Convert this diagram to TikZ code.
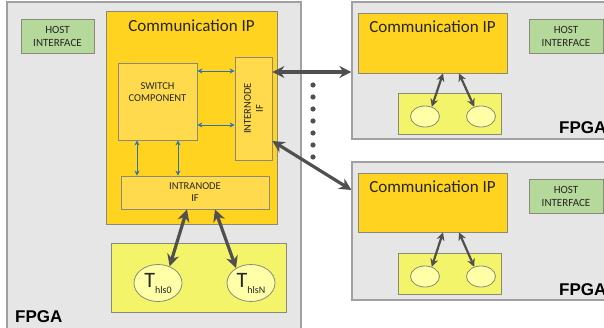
\documentclass[tikz,border=0pt]{standalone}
\usepackage{fontspec}
\setmainfont{Carlito}
\newfontfamily\boardfont{Liberation Sans}
\usepackage{tikz}
\usetikzlibrary{arrows.meta, positioning, calc, shapes.geometric}

\definecolor{boardgray}{HTML}{E6E6E6}
\definecolor{boardedge}{HTML}{A0A0A0}
\definecolor{edgegray}{HTML}{8A8A7A}
\definecolor{comyellow}{HTML}{FFD320}
\definecolor{blockyellow}{HTML}{FFDA4D}
\definecolor{taskyellow}{HTML}{F4F46B}
\definecolor{paleyellow}{HTML}{FFFFA8}
\definecolor{hostgreen}{HTML}{B5D89B}
\definecolor{linkblue}{HTML}{2A72B5}
\definecolor{busgray}{HTML}{505050}

% T with a small lowered index
\newcommand{\thls}[1]{{\fontsize{22}{22}\selectfont T}\raisebox{-6pt}{\fontsize{10}{10}\selectfont hls#1}}

\begin{document}
\begin{tikzpicture}[
    x=1pt, y=-1pt,
    every node/.style={font=\fontsize{11}{13}\selectfont, text=black!85, inner sep=0pt},
    board/.style={draw=boardedge, fill=boardgray, line width=1.2pt},
    comip/.style={draw=edgegray, fill=comyellow, line width=0.8pt},
    block/.style={draw=edgegray, fill=blockyellow, line width=0.8pt, align=center, font=\fontsize{10.5}{12}\selectfont},
    tasks/.style={draw=edgegray, fill=taskyellow, line width=0.8pt},
    task/.style={ellipse, draw=edgegray, fill=paleyellow, line width=0.8pt},
    host/.style={draw=edgegray, fill=hostgreen, line width=0.8pt, align=center},
    iptitle/.style={font=\fontsize{17}{17}\selectfont, anchor=base},
    fpga/.style={font=\boardfont\bfseries\fontsize{17}{17}\selectfont, text=black, anchor=base west},
    link/.style={{Stealth[length=5pt, width=5pt]}-{Stealth[length=5pt, width=5pt]}, line width=0.8pt, linkblue},
    bus/.style={{Stealth[length=12pt, width=12pt]}-{Stealth[length=12pt, width=12pt]}, line width=3.2pt, busgray},
    taskbus/.style={{Stealth[length=8pt, width=8pt]}-{Stealth[length=8pt, width=8pt]}, line width=2.2pt, busgray}
]

\clip (0,0) rectangle (604,328);

% === LEFT BOARD ===

\node[board, minimum width=294, minimum height=334] (fpgaA) at (154,169) {};
\node[host, minimum width=73, minimum height=34] (hostA) at (57.5,36) {HOST\\INTERFACE};
\node[comip, minimum width=171, minimum height=213] (comA) at (191.5,117.5) {};
\node[iptitle] (comAtitle) at (191.5,31.5) {Communication IP};

\node[block, minimum width=79, minimum height=77,
      label={[align=center, font=\fontsize{10.5}{12}\selectfont, yshift=9.5pt]center:SWITCH\\COMPONENT}] (switch) at (157.5,101.5) {};
\node[block, minimum width=37, minimum height=103,
      label={[align=center, rotate=90, font=\fontsize{10.5}{12}\selectfont]center:INTERNODE\\IF}] (internode) at (253.5,108.5) {};
\node[block, minimum width=148, minimum height=33] (intranode) at (195,192.5) {INTRANODE\\IF};

\node[tasks, minimum width=175, minimum height=69] (tasksA) at (198.5,277.5) {};
\node[task, minimum width=48, minimum height=37] (thls0) at (158,283) {\thls{0}};
\node[task, minimum width=48, minimum height=37] (thlsN) at (251,283) {\thls{N}};

\node[fpga] (fpgaAlabel) at (15,322) {FPGA};

% === RIGHT BOARDS ===

\node[board, minimum width=260, minimum height=137] (fpgaB) at (482,70.5) {};
\node[comip, minimum width=149, minimum height=60] (comB) at (432.5,43) {};
\node[iptitle] (comBtitle) at (432.5,33) {Communication IP};
\node[host, minimum width=74, minimum height=34] (hostB) at (566,36) {HOST\\INTERFACE};
\node[tasks, minimum width=103, minimum height=41] (tasksB) at (449.5,113.5) {};
\node[task, minimum width=29, minimum height=21] (b1) at (425,116.5) {};
\node[task, minimum width=29, minimum height=21] (b2) at (481,116.5) {};
\node[fpga] (fpgaBlabel) at (559,134) {FPGA};

\node[board, minimum width=260, minimum height=138] (fpgaC) at (482,231) {};
\node[comip, minimum width=149, minimum height=59] (comC) at (432.5,202.5) {};
\node[iptitle] (comCtitle) at (432.5,193) {Communication IP};
\node[host, minimum width=74, minimum height=34] (hostC) at (566,196) {HOST\\INTERFACE};
\node[tasks, minimum width=103, minimum height=41] (tasksC) at (449.5,273.5) {};
\node[task, minimum width=29, minimum height=21] (c1) at (425,276.5) {};
\node[task, minimum width=29, minimum height=21] (c2) at (481,276.5) {};
\node[fpga] (fpgaClabel) at (559,295) {FPGA};

% === INSIDE THE COMMUNICATION IP ===

\draw[link] ([yshift=30.5pt]switch.east) -- ([yshift=30.5pt]switch.east -| internode.west);
\draw[link] ([yshift=-23.5pt]switch.east) -- ([yshift=-23.5pt]switch.east -| internode.west);
\draw[link] ([xshift=-20.5pt]switch.south) -- ([xshift=-20.5pt]switch.south |- intranode.north);
\draw[link] ([xshift=20.5pt]switch.south) -- ([xshift=20.5pt]switch.south |- intranode.north);

% === TASKS ===

\draw[bus] ([xshift=-8pt]intranode.south) -- (thls0.55);
\draw[bus] ([xshift=20pt]intranode.south) -- (thlsN.135);

\draw[taskbus] ([xshift=10.5pt]comB.south) -- (b1.55);
\draw[taskbus] ([xshift=26.5pt]comB.south) -- (b2.125);
\draw[taskbus] ([xshift=10.5pt]comC.south) -- (c1.55);
\draw[taskbus] ([xshift=26.5pt]comC.south) -- (c2.125);

% === BETWEEN BOARDS ===

\draw[bus] ([yshift=36.5pt]internode.east) -- ([yshift=36.5pt]internode.east -| fpgaB.west);
\draw[bus] ([yshift=-32.5pt]internode.east) -- ([yshift=41pt]fpgaC.west);

\foreach \k in {0,...,6}
    \fill[busgray] (313,{85+12*\k}) circle (2.6pt);

\end{tikzpicture}
\end{document}
